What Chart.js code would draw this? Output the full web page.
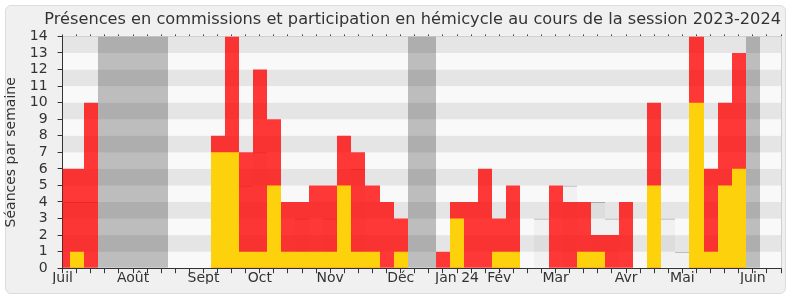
<!DOCTYPE html>
<html lang="fr">
<head>
<meta charset="utf-8">
<title>Présences 2023-2024</title>
<script src="https://cdn.jsdelivr.net/npm/chart.js@4.4.1/dist/chart.umd.min.js"></script>
<style>
    html, body { margin: 0; padding: 0; background: #fff; }
    #frame {
        position: absolute; left: 5px; top: 5px; width: 779px; height: 287px;
        background: #f0f0f0; border: 1px solid #dcdcdc; border-radius: 6px;
    }
    #wrap { position: absolute; left: 0; top: 0; width: 790px; height: 300px; }
</style>
</head>
<body>
<div id="frame"></div>
<div id="wrap"><canvas id="chart" width="790" height="300"></canvas></div>
<script>
// ISO week numbers of the session (July 2023 -> June 2024)
const weeks = [27, 28, 29, 30, 31, 32, 33, 34, 35, 36, 37, 38, 39, 40, 41, 42, 43, 44, 45, 46,
    47, 48, 49, 50, 51, 52, 1, 2, 3, 4, 5, 6, 7, 8, 9, 10, 11, 12, 13, 14, 15, 16, 17, 18, 19, 20,
    21, 22, 23, 24, 25, 26];

// month labels and the week index where each one sits
const monthLabels = ['Juil', 'Août', 'Sept', 'Oct', 'Nov', 'Déc', 'Jan 24', 'Fév', 'Mar', 'Avr', 'Mai', 'Juin'];
const monthWeeks = [0, 5, 10, 14, 19, 24, 28, 31, 35, 40, 44, 49];

// 1 = parliamentary holidays
const vacances = [0, 0, 0, 1, 1, 1, 1, 1, 0, 0, 0, 0, 0, 0, 0, 0, 0, 0, 0, 0,
    0, 0, 0, 0, 0, 1, 1, 0, 0, 0, 0, 0, 0, 0, 0, 0, 0, 0, 0, 0, 0, 0,
    0, 0, 0, 0, 0, 0, 0, 1, 0, 0];

// présences détectées en hémicycle
const hemicycle = [4, 4, 4, 0, 0, 0, 0, 0, 0, 0, 0, 0, 5, 5, 7, 0, 0, 3, 0, 3,
    0, 6, 0, 0, 0, 0, 0, 0, 0, 0, 0, 0, 0, 0, 3, 0, 5, 0, 4, 3, 0, 0,
    0, 3, 1, 0, 0, 0, 0, 0, 0, 0];

// présences en commission (rouge)
const commission = [6, 6, 10, 0, 0, 0, 0, 0, 0, 0, 0, 8, 14, 7, 12, 9, 4, 4, 5, 5,
    8, 7, 5, 4, 3, 0, 0, 1, 4, 4, 6, 3, 5, 0, 0, 5, 4, 4, 2, 2, 4, 0,
    10, 0, 0, 14, 6, 10, 13, 0, 0, 0];

// participations en hémicycle (jaune)
const participation = [0, 1, 0, 0, 0, 0, 0, 0, 0, 0, 0, 7, 7, 1, 1, 5, 1, 1, 1, 1,
    5, 1, 1, 0, 1, 0, 0, 0, 3, 0, 0, 1, 1, 0, 0, 0, 0, 1, 1, 0, 0, 0,
    5, 0, 0, 10, 1, 5, 6, 0, 0, 0];

const yMax = 14;
const textColor = '#333';
Chart.defaults.font.family = "'DejaVu Sans', sans-serif";

// alternating horizontal bands behind the bars, plus the light right border
const bandsPlugin = {
    id: 'bands',
    beforeDraw(chart) {
        const { ctx, chartArea: a, scales: { y } } = chart;
        ctx.save();
        for (let v = 0; v < yMax; v++) {
            ctx.fillStyle = v % 2 === 0 ? '#f9f9f9' : '#e5e5e5';
            const top = y.getPixelForValue(v + 1);
            const bottom = y.getPixelForValue(v);
            ctx.fillRect(a.left, top, a.right - a.left, bottom - top);
        }
        ctx.restore();
    },
    afterDraw(chart) {
        const { ctx, chartArea: a } = chart;
        ctx.save();
        ctx.strokeStyle = '#d0d0d0';
        ctx.lineWidth = 1;
        ctx.beginPath();
        ctx.moveTo(Math.round(a.right) + 0.5, a.top);
        ctx.lineTo(Math.round(a.right) + 0.5, a.bottom);
        ctx.stroke();
        ctx.restore();
    }
};

// snap bar edges to whole pixels (half-way between weeks) so that
// translucent neighbours neither overlap nor leave seams
const snapPlugin = {
    id: 'snap',
    beforeDatasetsDraw(chart) {
        const x = chart.scales.x;
        chart.getSortedVisibleDatasetMetas().forEach(meta => {
            meta.data.forEach((bar, i) => {
                const l = Math.round(x.getPixelForValue(i - 0.5));
                const r = Math.round(x.getPixelForValue(i + 0.5));
                bar.x = (l + r) / 2;
                bar.width = r - l;
                bar.inflateAmount = 0;
            });
        });
    }
};

const barBase = {
    grouped: false,
    barPercentage: 1,
    categoryPercentage: 1,
    inflateAmount: 0,
    borderWidth: 0
};

const ctx = document.getElementById('chart').getContext('2d');
new Chart(ctx, {
    type: 'bar',
    data: {
        labels: weeks,
        datasets: [
            {
                ...barBase,
                label: 'Participations en hémicycle',
                data: participation.map(v => v || null),
                backgroundColor: '#fdd20c',
                order: 1
            },
            {
                ...barBase,
                label: 'Présences en commission',
                data: commission.map(v => v || null),
                backgroundColor: 'rgba(255, 0, 0, 0.78)',
                order: 2
            },
            {
                ...barBase,
                label: 'Présences en hémicycle',
                data: hemicycle.map(v => v || null),
                backgroundColor: 'rgba(0, 0, 0, 0.03)',
                borderColor: '#aaaaaa',
                borderWidth: { top: 1, left: 0, right: 0, bottom: 0 },
                order: 3
            },
            {
                ...barBase,
                label: 'Vacances',
                data: vacances.map(v => v ? yMax : null),
                backgroundColor: 'rgba(0, 0, 0, 0.24)',
                order: 4
            }
        ]
    },
    options: {
        responsive: false,
        animation: false,
        layout: {
            padding: { left: 0, right: 9, top: 0, bottom: 16 }
        },
        plugins: {
            legend: { display: false },
            tooltip: { enabled: false },
            title: {
                display: true,
                align: 'end',
                text: 'Présences en commissions et participation en hémicycle au cours de la session 2023-2024',
                color: textColor,
                font: { size: 16.2, weight: 'normal' },
                padding: { top: 10, bottom: 5 }
            }
        },
        scales: {
            x: {
                type: 'category',
                offset: false,
                grid: {
                    offset: false,
                    drawOnChartArea: false,
                    tickLength: 5,
                    color: textColor
                },
                border: { color: textColor },
                ticks: {
                    autoSkip: false,
                    maxRotation: 0,
                    padding: -3,
                    color: textColor,
                    font: { size: 14 },
                    callback: (value, index) => {
                        const m = monthWeeks.indexOf(index);
                        return m >= 0 ? monthLabels[m] : '';
                    }
                }
            },
            xTop: {
                type: 'category',
                position: 'top',
                offset: false,
                grid: {
                    offset: false,
                    drawOnChartArea: false,
                    tickLength: 2,
                    color: '#444'
                },
                border: { color: '#d0d0d0' },
                ticks: { display: false }
            },
            y: {
                min: 0,
                max: yMax,
                grid: {
                    drawOnChartArea: false,
                    tickLength: 5,
                    color: textColor
                },
                border: { color: textColor },
                ticks: {
                    stepSize: 1,
                    autoSkip: false,
                    padding: 10,
                    color: textColor,
                    font: { size: 14 }
                },
                title: {
                    display: true,
                    text: 'Séances par semaine',
                    color: textColor,
                    font: { size: 14 },
                    padding: { top: 3, bottom: 0 }
                }
            }
        }
    },
    plugins: [bandsPlugin, snapPlugin]
});
</script>
</body>
</html>
